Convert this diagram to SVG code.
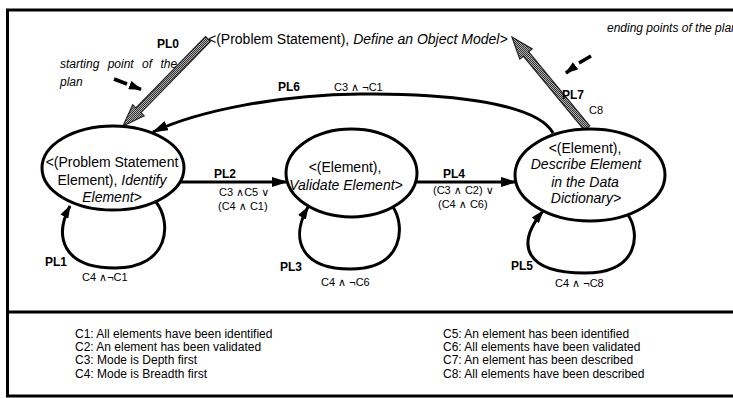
<svg xmlns="http://www.w3.org/2000/svg" width="733" height="398" viewBox="0 0 733 398">
<style>
  text { font-family: "Liberation Sans", "DejaVu Sans", sans-serif; fill: #000; }
  .node { font-size: 14px; text-anchor: middle; }
  .it { font-style: italic; }
  .lbl { font-size: 12px; font-weight: bold; }
  .cond { font-size: 11px; }
  .note { font-size: 12px; font-style: italic; }
  .leg { font-size: 12px; }
  .ell { fill: #fff; stroke: #000; stroke-width: 3; }
  .edge { fill: none; stroke: #000; stroke-width: 3; }
  .grey { fill: url(#hatch); stroke: #222; stroke-width: 1.2; }
  .frame { stroke: #000; stroke-width: 3; fill: none; }
</style>
<defs>
  <pattern id="hatch" width="2" height="2" patternUnits="userSpaceOnUse">
    <rect width="2" height="2" fill="#b0b0b0"/>
    <rect width="1" height="1" fill="#333"/>
    <rect x="1" y="1" width="1" height="1" fill="#333"/>
  </pattern>
  <marker id="ah" markerUnits="userSpaceOnUse" markerWidth="16" markerHeight="10" refX="15" refY="5" orient="auto">
    <path d="M0,0 L16,5 L0,10 Z" fill="#000"/>
  </marker>
  <marker id="ahs" markerUnits="userSpaceOnUse" markerWidth="13" markerHeight="9" refX="12" refY="4.5" orient="auto">
    <path d="M0,0 L13,4.5 L0,9 Z" fill="#000"/>
  </marker>
</defs>
<rect width="733" height="398" fill="#fff"/>
<g id="frame">
  <line class="frame" x1="6" y1="10" x2="733" y2="10"/>
  <line class="frame" x1="7.5" y1="9" x2="7.5" y2="397"/>
  <line class="frame" x1="6" y1="312" x2="733" y2="312"/>
  <line class="frame" x1="6" y1="396" x2="733" y2="396"/>
</g>
<g id="connectors">
  <g id="PL0">
    <polygon class="grey" points="210.5,41.4 140.9,112.7 144.1,115.9 123,126 132.7,104.7 135.9,107.9 205.5,36.6"/>
    <text class="lbl" x="157" y="48">PL0</text>
  </g>
  <g id="PL7">
    <polygon class="grey" points="589.7,125.8 528.7,51.8 532.2,48.9 512,37 519.8,59.1 523.3,56.2 584.3,130.2"/>
    <text class="lbl" x="562" y="99">PL7</text>
    <text class="cond" x="589" y="114">C8</text>
  </g>
  <g id="PL6">
    <path class="edge" d="M553,133 C535,100 430,93 360,94 C280,95 200,110 153,132" marker-end="url(#ah)"/>
    <text class="lbl" x="278" y="91">PL6</text>
    <text class="cond" x="334" y="91">C3 ∧ ¬C1</text>
  </g>
  <g id="PL2">
    <path class="edge" d="M180,182 L287,182" marker-end="url(#ah)"/>
    <text class="lbl" x="214" y="178">PL2</text>
    <text class="cond" x="219" y="196">C3 ∧C5 ∨</text>
    <text class="cond" x="218" y="210">(C4 ∧ C1)</text>
  </g>
  <g id="PL4">
    <path class="edge" d="M416,182 L516,182" marker-end="url(#ah)"/>
    <text class="lbl" x="443" y="178">PL4</text>
    <text class="cond" x="433" y="194">(C3 ∧ C2) ∨</text>
    <text class="cond" x="438" y="208">(C4 ∧ C6)</text>
  </g>
  <g id="PL1">
    <path class="edge" d="M156,202 C172,222 170,268 115,268 C62,268 54,236 70,206" marker-end="url(#ahs)"/>
    <text class="lbl" x="45" y="266">PL1</text>
    <text class="cond" x="82" y="281">C4 ∧¬C1</text>
  </g>
  <g id="PL3">
    <path class="edge" d="M393,207 C405,225 405,269 350,269 C300,269 290,238 308,207" marker-end="url(#ahs)"/>
    <text class="lbl" x="280" y="271">PL3</text>
    <text class="cond" x="321" y="286">C4 ∧ ¬C6</text>
  </g>
  <g id="PL5">
    <path class="edge" d="M628,215 C640,232 640,273 585,273 C525,273 515,245 543,211" marker-end="url(#ahs)"/>
    <text class="lbl" x="511" y="270">PL5</text>
    <text class="cond" x="555" y="287">C4 ∧ ¬C8</text>
  </g>
  <g id="start-note">
    <text class="note" x="60" y="68" word-spacing="5">starting point of the</text>
    <text class="note" x="60" y="86">plan</text>
    <line x1="114" y1="79" x2="127" y2="84" stroke="#000" stroke-width="3.5"/>
    <line x1="136" y1="87.5" x2="141" y2="89.4" stroke="#000" stroke-width="3.5" marker-end="url(#ahs)"/>
  </g>
  <g id="end-note">
    <text class="note" x="607" y="32">ending points of the plan</text>
    <line x1="591" y1="56" x2="579" y2="63" stroke="#000" stroke-width="3.5"/>
    <line x1="570" y1="70" x2="566" y2="73" stroke="#000" stroke-width="3.5" marker-end="url(#ahs)"/>
  </g>
</g>
<g id="goal">
  <text x="208" y="44" style="font-size:14px">&lt;(Problem Statement), <tspan class="it">Define an Object Model&gt;</tspan></text>
</g>
<g id="node-identify">
  <ellipse class="ell" cx="113" cy="168" rx="71" ry="42"/>
  <text class="node" x="112" y="167">&lt;(Problem Statement</text>
  <text class="node" x="112" y="185">Element), <tspan class="it">Identify</tspan></text>
  <text class="node it" x="112" y="202">Element&gt;</text>
</g>
<g id="node-validate">
  <ellipse class="ell" cx="351.5" cy="173" rx="65.5" ry="44"/>
  <text class="node" x="345" y="172">&lt;(Element),</text>
  <text class="node it" x="346" y="190">Validate Element&gt;</text>
</g>
<g id="node-describe">
  <ellipse class="ell" cx="590" cy="175" rx="75" ry="46"/>
  <text class="node" x="585" y="153">&lt;(Element),</text>
  <text class="node it" x="586" y="169">Describe Element</text>
  <text class="node it" x="585" y="187">in the Data</text>
  <text class="node it" x="586" y="203">Dictionary&gt;</text>
</g>
<g id="legend">
  <text class="leg" x="75" y="338">C1: All elements have been identified</text>
  <text class="leg" x="75" y="351">C2: An element has been validated</text>
  <text class="leg" x="75" y="364">C3: Mode is Depth first</text>
  <text class="leg" x="75" y="378">C4: Mode is Breadth first</text>
  <text class="leg" x="443" y="338">C5: An element has been identified</text>
  <text class="leg" x="443" y="351">C6: All elements have been validated</text>
  <text class="leg" x="443" y="364">C7: An element has been described</text>
  <text class="leg" x="443" y="378">C8: All elements have been described</text>
</g>
</svg>
